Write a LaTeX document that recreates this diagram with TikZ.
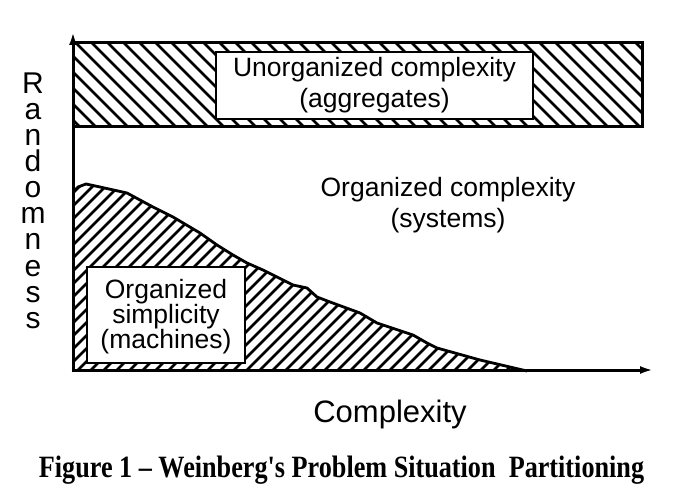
\documentclass[tikz,border=0pt]{standalone}
\usepackage{fontspec}
\setmainfont{Liberation Sans}
\newfontfamily\capfont{Liberation Serif}
\usetikzlibrary{arrows.meta}
\begin{document}
\begin{tikzpicture}[x=1bp,y=-1bp,
  lab/.style={font=\fontsize{26.5bp}{31bp}\selectfont, align=center, inner sep=0pt},
  wbox/.style={draw=black, line width=2.5bp, fill=white},
  hatchline/.style={line width=2.5bp},
  axisline/.style={line width=3bp, -{Latex[length=13bp,width=8bp]}}
]
\useasboundingbox (0,0) rectangle (683,492);
\fill[white] (0,0) rectangle (683,492);

% top band
\begin{scope}
\clip (73,43) rectangle (642,127);
\foreach \k in {-20,-4,...,650} \draw[hatchline] (\k,43) -- ++(84,84);
\end{scope}
\draw[line width=3bp] (73,43) rectangle (642,127);

% lower region
\begin{scope}
\clip (73,371) -- (73,192) -- (78,187) -- (86,184) -- (100,187) -- (127,193) -- (153,207) -- (173,217) -- (200,233) -- (217,245) -- (233,255) -- (247,263) -- (263,270) -- (277,277) -- (293,285) -- (307,288) -- (317,297) -- (330,302) -- (360,313) -- (377,323) -- (413,335) -- (427,343) -- (437,348) -- (480,360) -- (527,371) -- cycle;
\foreach \k in {-300,-287,...,540} \draw[hatchline] (\k,371) -- ++(300,-300);
\end{scope}
\draw[line width=2.8bp, line join=round] (73,192) -- (78,187) -- (86,184) -- (100,187) -- (127,193) -- (153,207) -- (173,217) -- (200,233) -- (217,245) -- (233,255) -- (247,263) -- (263,270) -- (277,277) -- (293,285) -- (307,288) -- (317,297) -- (330,302) -- (360,313) -- (377,323) -- (413,335) -- (427,343) -- (437,348) -- (480,360) -- (527,371);

% axes
\coordinate (o) at (73,370);
\coordinate (ytip) at (73,32);
\coordinate (xtip) at (653,370);
\draw[axisline] (73,372) -- (ytip);
\draw[axisline] (71.5,370) -- (xtip);

% boxes
\node[wbox, lab, minimum width=317bp, minimum height=67bp] (unorg) at (374.5,85.5) {Unorganized complexity\\(aggregates)};
\node[lab] (org) at (448,205) {Organized complexity\\(systems)};
\node[wbox, minimum width=158bp, minimum height=96bp, inner sep=0pt] (simp) at (166,315) {};
\node[lab, font=\fontsize{26.5bp}{25bp}\selectfont] (simptext) at (166,317) {Organized\\simplicity\\(machines)};

% axis labels
\node[lab, font=\fontsize{30bp}{26.1bp}\selectfont, anchor=north] (ylab) at (33,72.5) {R\\a\\n\\d\\o\\m\\n\\e\\s\\s};
\node[font=\fontsize{31bp}{32bp}\selectfont, inner sep=0pt, anchor=base] (xlab) at (390,422) {Complexity};

% caption
\node[font=\capfont\bfseries\fontsize{31bp}{32bp}\selectfont, inner sep=0pt, anchor=base] (cap) at (341.5,477) {\scalebox{0.845}[1]{Figure 1 – Weinberg\textquotesingle s Problem Situation\ \ Partitioning}};
\end{tikzpicture}
\end{document}
